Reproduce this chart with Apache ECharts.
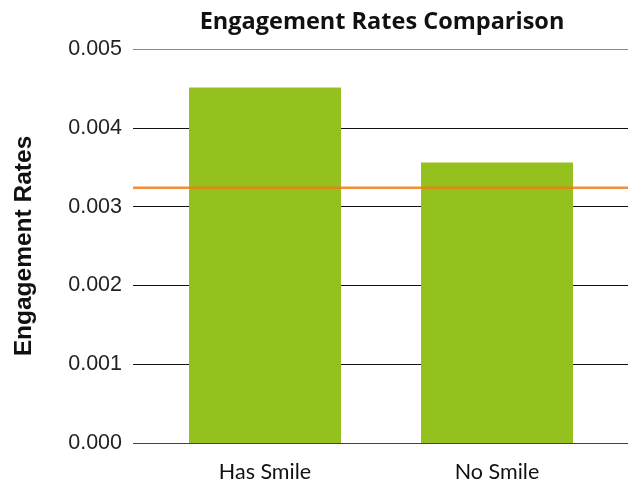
<!DOCTYPE html>
<html>
<head>
<meta charset="utf-8">
<script src="https://cdn.jsdelivr.net/npm/echarts@6/dist/echarts.min.js"></script>
<style>html,body{margin:0;padding:0;background:#fff}#c{width:633px;height:487px}</style>
</head>
<body>
<div id="c"></div>
<script>
// Engagement rate per group
const categories = ['Has Smile', 'No Smile'];
const rates = [0.00451, 0.00356];
// Overall average reference line
const averageRate = 0.00324;
const yTicks = [0, 0.001, 0.002, 0.003, 0.004, 0.005];

const chart = echarts.init(document.getElementById('c'));
chart.setOption({
  animation: false,
  title: {
    text: 'Engagement Rates Comparison',
    left: 377, top: 5, textAlign: 'center',
    textStyle: { fontFamily: 'Open Sans', fontWeight: 'bold', fontSize: 23.5, color: '#111' }
  },
  grid: [
    { left: 133, right: 5, top: 49, bottom: 44 },
    { left: 149, right: 20, top: 49, bottom: 44 }
  ],
  xAxis: [
    // full-width span used by the gridlines and the average line
    { gridIndex: 0, type: 'value', min: 0, max: 1, show: false, splitLine: { show: false } },
    {
      gridIndex: 1, type: 'category', data: categories,
      axisLine: { show: false }, axisTick: { show: false },
      axisLabel: { margin: 18, fontFamily: 'Lato', fontSize: 21.5, color: '#111' }
    }
  ],
  yAxis: [
    {
      gridIndex: 0, type: 'value', min: yTicks[0], max: yTicks[yTicks.length - 1], interval: 0.001,
      name: 'Engagement Rates', nameLocation: 'middle', nameGap: 96, nameRotate: 90,
      nameTextStyle: { fontFamily: 'Liberation Sans', fontWeight: 'bold', fontSize: 24.5, color: '#111' },
      axisLine: { show: false }, axisTick: { show: false },
      axisLabel: { margin: 11, fontFamily: 'Liberation Sans', fontSize: 21.5, color: '#222',
        formatter: v => v.toFixed(3) },
      splitLine: { lineStyle: { color: ['#444', '#111', '#111', '#111', '#111', '#888'], width: 1 } }
    },
    {
      gridIndex: 1, type: 'value', min: yTicks[0], max: yTicks[yTicks.length - 1], interval: 0.001,
      show: false, splitLine: { show: false }
    }
  ],
  series: [
    {
      type: 'bar', xAxisIndex: 1, yAxisIndex: 1, data: rates,
      barWidth: 152, itemStyle: { color: '#95c11f' }, z: 2
    },
    {
      type: 'line', xAxisIndex: 0, yAxisIndex: 0, z: 5,
      data: [[0, averageRate], [1, averageRate]],
      symbol: 'none', silent: true,
      lineStyle: { color: '#f07d12', width: 2.5, opacity: 0.85 }
    }
  ]
});
</script>
</body>
</html>
